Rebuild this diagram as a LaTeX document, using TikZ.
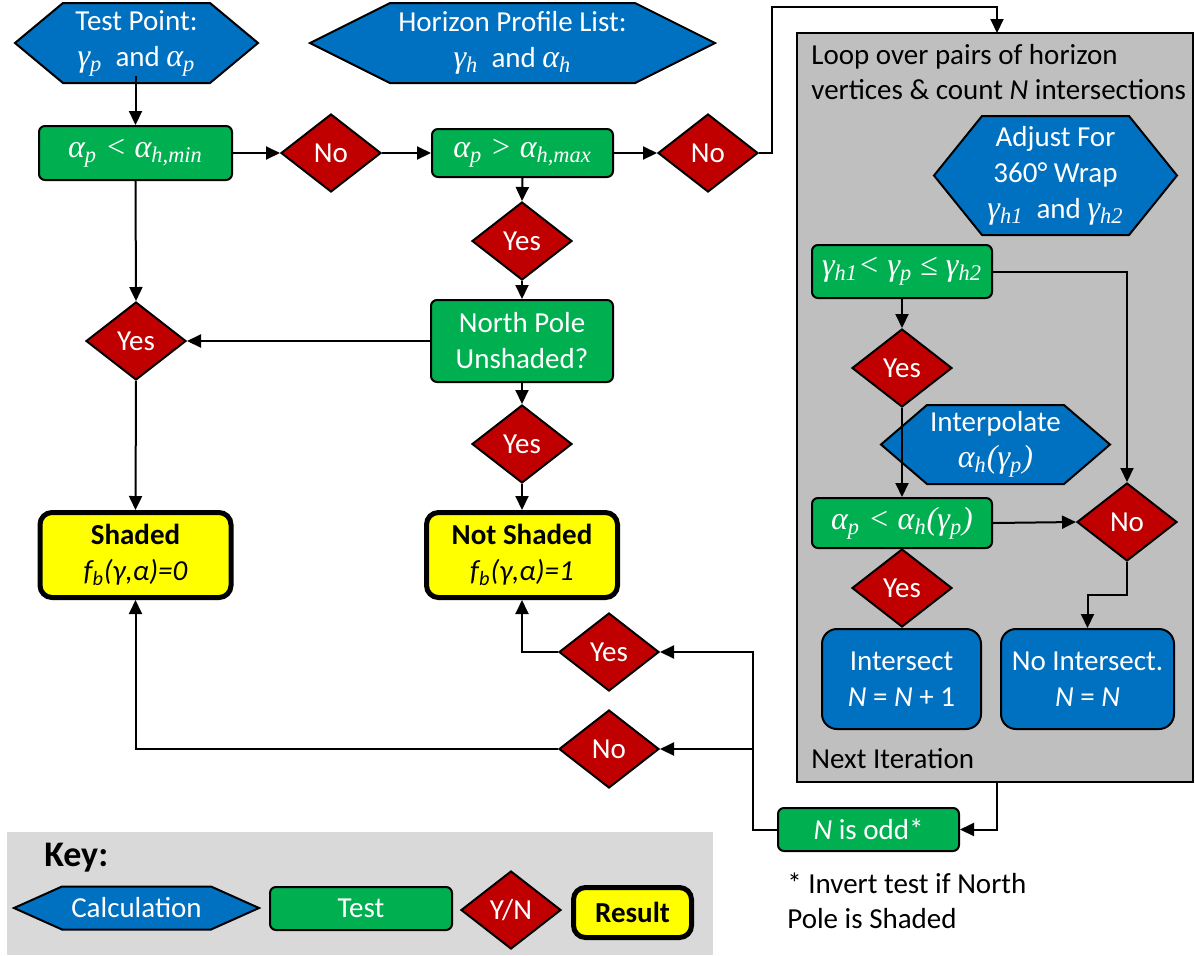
\documentclass[tikz,border=0pt]{standalone}
\usepackage{fontspec}
\setmainfont{Carlito}
\newfontfamily\mfont{Liberation Serif}
\usetikzlibrary{shapes.geometric,arrows.meta,calc}
\definecolor{cblue}{HTML}{0070C0}
\definecolor{cgreen}{HTML}{00B050}
\definecolor{cred}{HTML}{C00000}
\definecolor{cyel}{HTML}{FFFF00}
\definecolor{cgray}{HTML}{BFBFBF}
\definecolor{kgray}{HTML}{D9D9D9}
\newcommand\mi[1]{{\mfont\itshape\fontsize{16}{18}\selectfont #1}}
\newcommand\sub[1]{\textsubscript{\mfont\itshape #1}}
\tikzset{
  every node/.style={font=\fontsize{14.5}{18}\selectfont},
  calctext/.style={text=white, align=center, inner sep=0pt},
  hexstyle/.style={fill=cblue, draw=black, line width=1pt, line join=miter},
  testbox/.style={rectangle, rounded corners=3pt, fill=cgreen, draw=black, line width=1pt, text=white, align=center, inner sep=0pt},
  yn/.style={diamond, fill=cred, draw=black, line width=1pt, text=white, inner sep=0pt, minimum width=50pt, minimum height=39pt},
  result/.style={rectangle, rounded corners=6pt, fill=cyel, draw=black, line width=2.5pt, align=center, inner sep=0pt, minimum width=95.5pt, minimum height=42.5pt},
  calcbox/.style={rectangle, rounded corners=7.5pt, fill=cblue, draw=black, line width=1pt, text=white, align=center, inner sep=0pt, minimum height=50pt},
  arr/.style={-{Triangle[length=7pt,width=6.5pt]}, line width=1pt},
  ln/.style={line width=1pt},
  plain/.style={inner sep=0pt, align=left}
}
% name, cx, cy, half width, half height, slant, text
\newcommand\hexshape[7]{%
  \path[hexstyle] ({#2-#4},{#3}) -- ({#2-#4+#6},{#3-#5}) -- ({#2+#4-#6},{#3-#5}) -- ({#2+#4},{#3}) -- ({#2+#4-#6},{#3+#5}) -- ({#2-#4+#6},{#3+#5}) -- cycle;
  \node[calctext] (#1) at (#2,#3) {#7};
}
\begin{document}
\begin{tikzpicture}[x=0.5pt,y=-0.5pt]
\useasboundingbox (0,0) rectangle (1195,955);
% loop container
\node[rectangle, fill=cgray, draw=black, line width=1pt, minimum width=198pt, minimum height=374.5pt, inner sep=0pt] (loop) at (995,407.5) {};
\coordinate (lin) at (997,33);
\coordinate (lout) at (997,782);
\node[plain, anchor=west] (loopt) at (811,72.5) {Loop over pairs of horizon\\[-0.5pt]vertices \& count \textit{N} intersections};
\node[plain, anchor=west] (nexti) at (811,759) {Next Iteration};
% key container
\node[rectangle, fill=kgray, minimum width=353pt, minimum height=61.5pt, inner sep=0pt] (keybox) at (360,893.5) {};
\node[plain, anchor=west, font=\fontsize{18}{22}\selectfont\bfseries] (keyt) at (44,858) {Key:};

% hexagons
\hexshape{tp}{136.5}{43}{121.5}{40}{48}{Test Point:\\\mi{γ\sub{p}} \ and \mi{α\sub{p}}}
\hexshape{hp}{512.5}{43}{202.5}{40}{80}{Horizon Profile List:\\\mi{γ\sub{h}} \ and \mi{α\sub{h}}}
\hexshape{adj}{1055.5}{175.5}{121.5}{59.5}{48}{Adjust For\\360° Wrap\\\mi{γ\sub{h1}} \ and \mi{γ\sub{h2}}}
\hexshape{interp}{995.5}{444.5}{114.5}{39.5}{46}{Interpolate\\\mi{α\sub{h}(γ\sub{p})}}
\hexshape{kcalc}{136.5}{908}{122.5}{21.5}{48}{Calculation}

% tests
\node[testbox, minimum width=96.5pt, minimum height=27pt] (amin) at (135.5,153) {\mi{α\sub{p} < α\sub{h,min}}};
\node[testbox, minimum width=90.5pt, minimum height=24pt] (amax) at (522.5,153) {\mi{α\sub{p} > α\sub{h,max}}};
\node[testbox, minimum width=91pt, minimum height=41pt] (np) at (522,341) {North Pole\\Unshaded?};
\node[testbox, minimum width=90pt, minimum height=26.5pt] (gam) at (902,271.5) {\mi{γ\sub{h1}< γ\sub{p} {\upshape≤} γ\sub{h2}}};
\node[testbox, minimum width=90pt, minimum height=25pt] (alph) at (902,523) {\mi{α\sub{p} < α\sub{h}(γ\sub{p})}};
\node[testbox, minimum width=90.5pt, minimum height=21.5pt] (nodd) at (868.5,829.5) {\textit{N} is odd*};
\node[testbox, minimum width=91pt, minimum height=21.5pt] (ktest) at (361,908.5) {Test};

% decisions
\node[yn] (no1) at (331,153) {No};
\node[yn] (no2) at (708,153) {No};
\node[yn] (yes1) at (522,241) {Yes};
\node[yn] (yesL) at (136,341) {Yes};
\node[yn] (yes2) at (522,444) {Yes};
\node[yn] (yesA) at (902,368) {Yes};
\node[yn] (noA) at (1127,522) {No};
\node[yn] (yesB) at (902,588) {Yes};
\node[yn] (yesC) at (609,652) {Yes};
\node[yn] (noC) at (609,749) {No};
\node[yn] (kyn) at (511,910) {Y/N};

% results
\node[result] (sh) at (135.5,555) {\textbf{Shaded}\\\textit{f\textsubscript{b}(γ,α)=0}};
\node[result] (ns) at (522,555) {\textbf{Not Shaded}\\\textit{f\textsubscript{b}(γ,α)=1}};
\node[result, minimum width=59pt, minimum height=25pt] (kres) at (632.5,912.5) {\textbf{Result}};

% calc boxes
\node[calcbox, minimum width=79.5pt] (int) at (901.5,679) {Intersect\\\textit{N} = \textit{N} + 1};
\node[calcbox, minimum width=86.5pt] (noint) at (1087.5,679) {No Intersect.\\\textit{N} = \textit{N}};

% footnote
\node[plain, anchor=west] (fn) at (787,900.5) {* Invert test if North\\[-0.5pt]Pole is Shaded};

% connectors
\draw[arr] (tp.south -| amin.north) -- (amin.north);
\draw[arr] (amin.east) -- (no1.west);
\draw[arr] (no1.east) -- (amax.west);
\draw[arr] (amax.east) -- (no2.west);
\draw[arr] (no2.east) -- (772,153) -- (772,7) -- (997,7) -- (lin);
\draw[arr] (amax.south) -- (yes1.north);
\draw[arr] (yes1.south) -- (np.north);
\draw[arr] (np.west) -- (yesL.east);
\draw[arr] (np.south) -- (yes2.north);
\draw[arr] (yes2.south) -- (ns.north);
\draw[arr] (amin.south) -- (yesL.north);
\draw[arr] (yesL.south) -- (sh.north);
\draw[arr] (gam.south) -- (yesA.north);
\draw[arr] (gam.east) -| (noA.north);
\draw[arr] (yesA.south) -- (alph.north);
\draw[arr] (alph.east) -- (noA.west);
\draw[arr] (noA.south) -- ++(0,33) -| (noint.north);
\draw[arr] (lout) -- (997,829.5) -- (nodd.east);
\draw[arr] (nodd.west) -- (753,829.5) -- (753,652) -- (yesC.east);
\draw[arr] (nodd.west) -- (753,829.5) -- (753,749) -- (noC.east);
\draw[arr] (yesC.west) -| (ns.south);
\draw[arr] (noC.west) -| (sh.south);
\end{tikzpicture}
\end{document}
